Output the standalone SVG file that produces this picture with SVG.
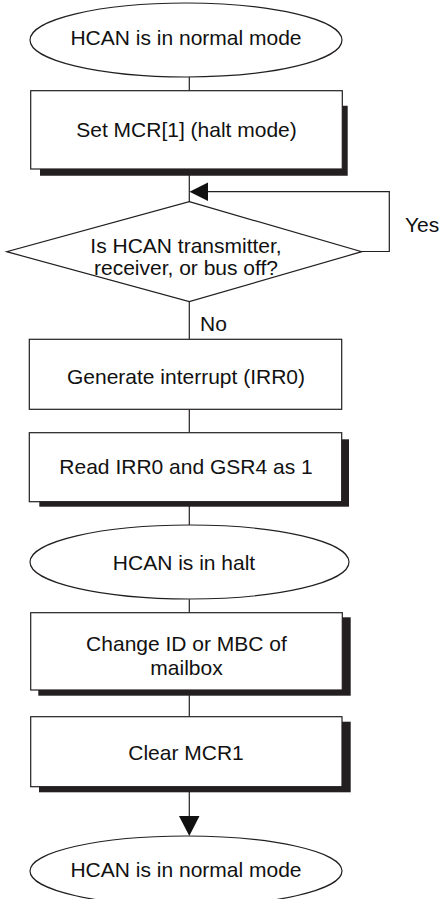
<svg xmlns="http://www.w3.org/2000/svg" width="440" height="899" viewBox="0 0 440 899">
<style>
.s{fill:#fff;stroke:#231f20;stroke-width:1.2}
.sh{fill:#231f20}
.t{font-family:"Liberation Sans",Arial,sans-serif;font-size:21px;fill:#111;text-anchor:middle}
.l{font-family:"Liberation Sans",Arial,sans-serif;font-size:21px;fill:#111}
.c{fill:none;stroke:#231f20;stroke-width:1.2}
.a{fill:#111}
</style>
<rect width="440" height="899" fill="#fff"/>
<g id="connectors">
<line class="c" x1="189.3" y1="77" x2="189.3" y2="91"/>
<line class="c" x1="189.3" y1="169" x2="189.3" y2="202"/>
<polyline class="c" points="361.7,251.5 389.3,251.5 389.3,191.7 207,191.7"/>
<polygon class="a" points="189.5,191.7 208,182.5 208,201"/>
<line class="c" x1="189.3" y1="301.7" x2="189.3" y2="339.3"/>
<line class="c" x1="189.3" y1="409.3" x2="189.3" y2="432.7"/>
<line class="c" x1="189.3" y1="501.7" x2="189.3" y2="525"/>
<line class="c" x1="189.3" y1="599.3" x2="189.3" y2="612.7"/>
<line class="c" x1="189.3" y1="690" x2="189.3" y2="716.7"/>
<line class="c" x1="189.3" y1="786.7" x2="189.3" y2="817"/>
<polygon class="a" points="179,816 199.5,816 189.3,836"/>
<text class="l" x="405" y="232">Yes</text>
<text class="l" x="200" y="331">No</text>
</g>
<g id="start">
<ellipse class="s" cx="186" cy="40" rx="156" ry="37"/>
<text class="t" x="186" y="45">HCAN is in normal mode</text>
</g>
<g id="setMCR">
<polygon class="sh" points="40,175.7 347.7,175.7 347.7,105.7 342,105.7 342,169 40,169"/>
<rect class="s" x="30.7" y="90.7" width="311.6" height="78.3"/>
<text class="t" x="186.5" y="137">Set MCR[1] (halt mode)</text>
</g>
<g id="decision">
<polygon class="s" points="189.3,201.7 361.7,251.7 189.3,301.7 6.7,251.7"/>
<text class="t" x="186" y="253">Is HCAN transmitter,</text>
<text class="t" x="186" y="275">receiver, or bus off?</text>
</g>
<g id="interrupt">
<rect class="s" x="29.3" y="339.3" width="312.4" height="70"/>
<text class="t" x="186" y="384">Generate interrupt (IRR0)</text>
</g>
<g id="readIRR">
<rect class="sh" x="39.3" y="439.3" width="309.7" height="67.4"/>
<rect class="s" x="29.3" y="432.7" width="312.4" height="69"/>
<text class="t" x="186" y="474">Read IRR0 and GSR4 as 1</text>
</g>
<g id="halt">
<ellipse class="s" cx="189.5" cy="562" rx="159.5" ry="37"/>
<text class="t" x="184" y="570">HCAN is in halt</text>
</g>
<g id="change">
<rect class="sh" x="38.3" y="617.3" width="312.4" height="78.4"/>
<rect class="s" x="30.7" y="612.7" width="311.6" height="77.3"/>
<text class="t" x="186.5" y="651">Change ID or MBC of</text>
<text class="t" x="186.5" y="675">mailbox</text>
</g>
<g id="clear">
<rect class="sh" x="39" y="721.7" width="311.7" height="70.6"/>
<rect class="s" x="30.7" y="716.7" width="311.3" height="70"/>
<text class="t" x="186" y="760">Clear MCR1</text>
</g>
<g id="end">
<ellipse class="s" cx="186" cy="871" rx="156" ry="35"/>
<text class="t" x="186" y="877">HCAN is in normal mode</text>
</g>
</svg>
